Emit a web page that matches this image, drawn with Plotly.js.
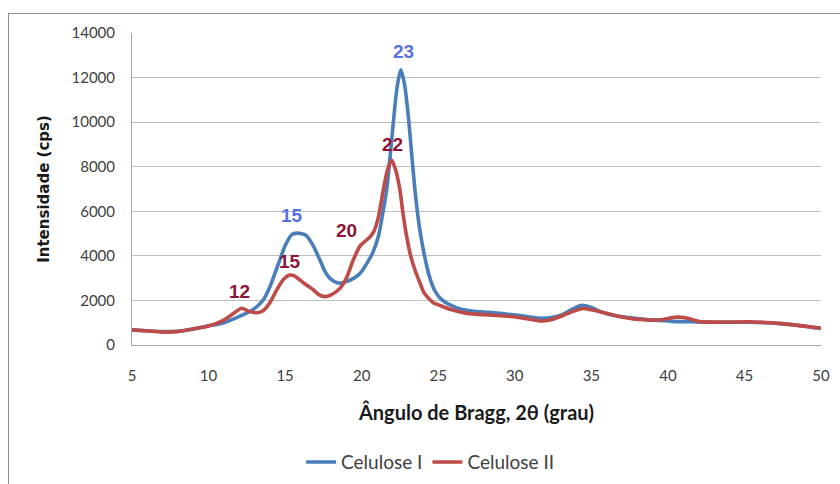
<!DOCTYPE html>
<html>
<head>
<meta charset="utf-8">
<script src="https://cdn.plot.ly/plotly-3.0.1.min.js"></script>
<style>
  html, body { margin: 0; padding: 0; background: #ffffff; }
  #wrap { position: relative; width: 840px; height: 484px; overflow: hidden; }
  #frame { position: absolute; left: 8px; top: 13px; width: 840px; height: 480px; border: 1px solid #8c8c8c; box-sizing: border-box; pointer-events: none; }
  #chart { position: absolute; left: 0; top: 0; width: 840px; height: 484px; }
</style>
</head>
<body>
<div id="wrap">
  <div id="chart"></div>
  <div id="frame"></div>
</div>
<script>
// Celulose I (blue)
const xCelI = [5, 6, 7, 8, 9, 10, 11, 12, 12.7, 13.2, 13.6, 14.0, 14.3, 14.67, 15.0, 15.43, 15.8, 16.1, 16.4, 16.8, 17.28, 17.6, 17.93, 18.3, 18.6, 19.0, 19.5, 19.9, 20.33, 20.76, 21.1, 21.35, 21.63, 21.85, 22.07, 22.3, 22.55, 22.8, 23.05, 23.25, 23.48, 23.75, 24.03, 24.3, 24.57, 24.85, 25.2, 25.77, 26.5, 27.5, 28.4, 29.3, 30.2, 31.0, 31.7, 32.5, 33.2, 33.8, 34.4, 35.0, 35.6, 36.4, 37.5, 38.5, 39.5, 40.6, 41.5, 42.5, 43.8, 45.0, 46.0, 47.3, 48.5, 50];
const yCelI = [680, 640, 600, 620, 720, 860, 1000, 1280, 1500, 1750, 2050, 2600, 3150, 3850, 4450, 4950, 5020, 4990, 4900, 4500, 3800, 3300, 2990, 2820, 2770, 2850, 3000, 3220, 3650, 4200, 4900, 5800, 6955, 8400, 10000, 11500, 12350, 11700, 10245, 8700, 6955, 5400, 4260, 3400, 2770, 2350, 2050, 1800, 1600, 1500, 1470, 1400, 1330, 1260, 1200, 1250, 1400, 1620, 1780, 1680, 1500, 1330, 1230, 1150, 1100, 1050, 1040, 1020, 1020, 1020, 1010, 960, 880, 740];

// Celulose II (red)
const xCelII = [5, 6, 7, 8, 9, 10, 11, 11.6, 12.16, 12.6, 13.14, 13.56, 14.0, 14.45, 14.9, 15.3, 15.6, 16.0, 16.4, 16.8, 17.2, 17.6, 18.0, 18.58, 19.0, 19.45, 19.9, 20.3, 20.55, 20.8, 21.1, 21.41, 21.7, 21.96, 22.2, 22.5, 22.7, 22.94, 23.2, 23.48, 23.8, 24.03, 24.3, 24.68, 25.1, 25.77, 26.86, 28.38, 29.9, 30.8, 31.65, 32.3, 32.95, 33.7, 34.48, 35.0, 35.57, 36.87, 38.4, 39.5, 40.57, 41.3, 42.1, 43.84, 45.36, 46.3, 47.3, 48.5, 50];
const yCelII = [680, 630, 580, 600, 720, 850, 1120, 1400, 1650, 1520, 1450, 1540, 1900, 2470, 2950, 3140, 3100, 2900, 2690, 2500, 2260, 2170, 2250, 2540, 3000, 3815, 4450, 4700, 4860, 5100, 5760, 6955, 7900, 8300, 7900, 6955, 5900, 4860, 4000, 3365, 2800, 2400, 2150, 1900, 1780, 1600, 1420, 1345, 1270, 1180, 1080, 1120, 1270, 1480, 1640, 1580, 1495, 1270, 1130, 1130, 1250, 1200, 1050, 1030, 1040, 1010, 970, 880, 750];

// Peak labels
const peakTextI = ["15", "23"];
const peakXI = [15.45, 22.7];
const peakYI = [5790, 13150];
const peakTextII = ["12", "15", "20", "22"];
const peakXII = [12.05, 15.32, 19.04, 22.0];
const peakYII = [2380, 3725, 5160, 8975];

const xTicks = [5, 10, 15, 20, 25, 30, 35, 40, 45, 50];
const yTicks = [0, 2000, 4000, 6000, 8000, 10000, 12000, 14000];

const colI = '#4A7EBB';
const colII = '#BE4B48';
const labI = '#5472E3';
const labII = '#8B1538';
const tickFont = {family: 'Lato, "Open Sans", sans-serif', size: 15, color: '#404040'};

const traces = [
  {x: xCelI, y: yCelI, type: 'scatter', mode: 'lines', name: 'Celulose I',
   line: {color: colI, width: 3.6, shape: 'spline', smoothing: 0.7}},
  {x: xCelII, y: yCelII, type: 'scatter', mode: 'lines', name: 'Celulose II',
   line: {color: colII, width: 3.6, shape: 'spline', smoothing: 0.7}}
];

const annotations = [];
peakTextI.forEach((t, i) => annotations.push({x: peakXI[i], y: peakYI[i], xref: 'x', yref: 'y', text: t, showarrow: false,
  font: {family: 'Liberation Sans, Arial, sans-serif', size: 19, color: labI, weight: 'bold'}}));
peakTextII.forEach((t, i) => annotations.push({x: peakXII[i], y: peakYII[i], xref: 'x', yref: 'y', text: t, showarrow: false,
  font: {family: 'Liberation Sans, Arial, sans-serif', size: 19, color: labII, weight: 'bold'}}));

const layout = {
  width: 840, height: 484,
  margin: {l: 132, r: 19, t: 33, b: 139},
  paper_bgcolor: 'rgba(0,0,0,0)',
  plot_bgcolor: '#ffffff',
  showlegend: true,
  legend: {orientation: 'h', xref: 'container', yref: 'container', x: 0.512, xanchor: 'center', y: 0.045, yanchor: 'middle',
           font: {family: 'Lato, "Open Sans", sans-serif', size: 19, color: '#404040'}, traceorder: 'normal'},
  xaxis: {
    range: [5, 50], tickvals: xTicks, ticktext: xTicks.map(String), automargin: false,
    showgrid: false, zeroline: false, showline: true, linecolor: '#A6A6A6', linewidth: 1,
    ticks: '', tickfont: tickFont, ticklabelstandoff: 17,
    title: {text: 'Ângulo de Bragg, 2θ (grau)', standoff: 22,
            font: {family: 'Lato, "Open Sans", sans-serif', size: 20, color: '#1a1a1a', weight: 'bold'}}
  },
  yaxis: {
    range: [0, 14000], tickvals: yTicks, ticktext: yTicks.map(String), automargin: false,
    showgrid: true, gridcolor: '#BFBFBF', gridwidth: 1, zeroline: false,
    showline: true, linecolor: '#A6A6A6', linewidth: 1,
    ticks: '', tickfont: tickFont, ticklabelstandoff: 13,
    title: {text: 'Intensidade (cps)', standoff: 18,
            font: {family: '"DejaVu Sans", Verdana, sans-serif', size: 15, color: '#1a1a1a', weight: 'bold'}}
  },
  annotations: annotations
};

Plotly.newPlot('chart', traces, layout, {displayModeBar: false, staticPlot: true});
</script>
</body>
</html>
